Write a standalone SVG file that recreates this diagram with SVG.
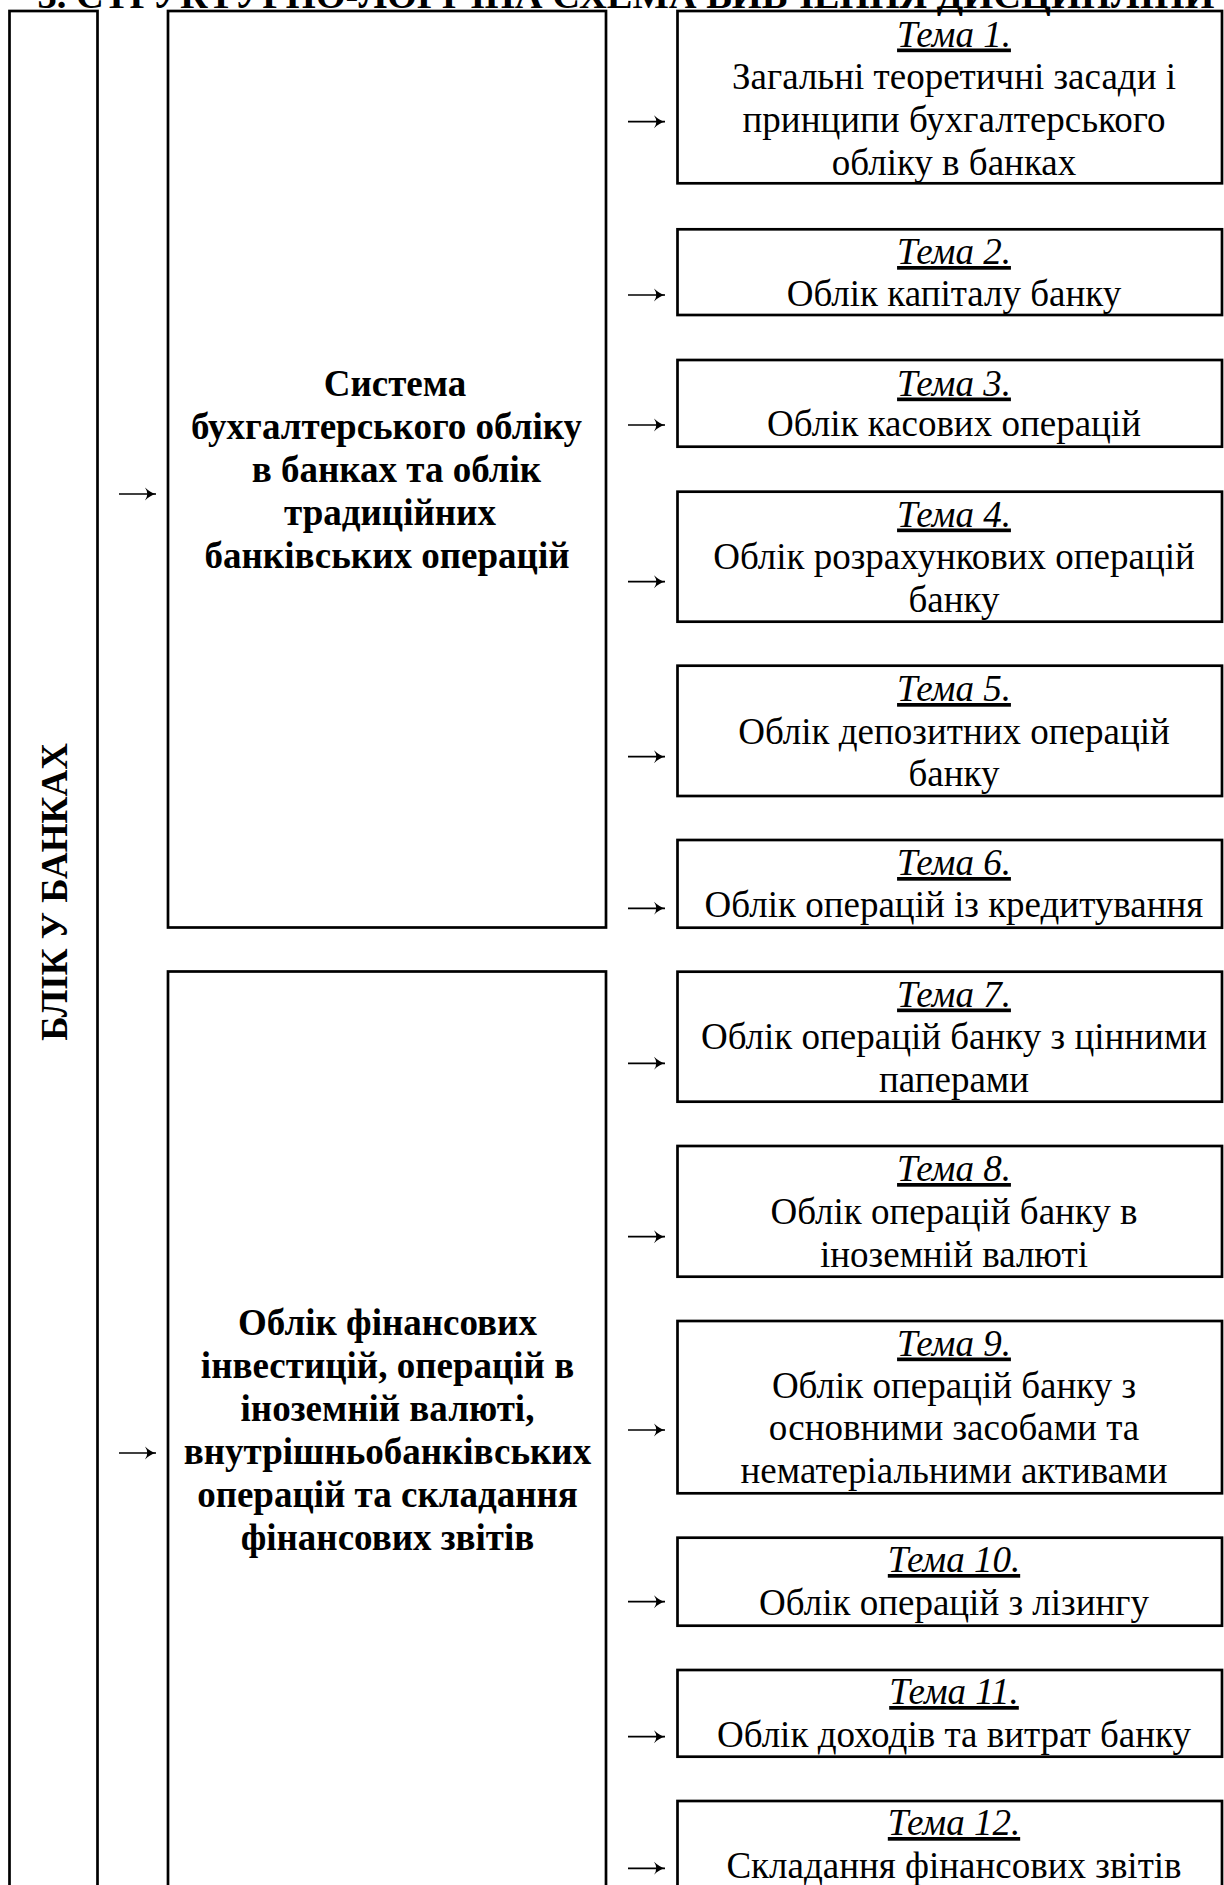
<svg xmlns="http://www.w3.org/2000/svg" width="1224" height="1885" viewBox="0 0 1224 1885">
<style>
  .box { fill: none; stroke: #000; stroke-width: 2.7; }
  text { font-family: "Liberation Serif", "Times New Roman", serif; font-size: 37px; fill: #000; }
  .b { font-weight: bold; }
  .t { text-anchor: middle; }
  .tema { font-style: italic; text-decoration: underline; }
  .arr { stroke: #000; stroke-width: 1.7; fill: none; marker-end: url(#ah); }
</style>
<defs>
  <marker id="ah" markerUnits="userSpaceOnUse" markerWidth="13" markerHeight="15" refX="11" refY="7.5" orient="auto" overflow="visible">
    <path d="M0,1 Q5.5,6.3 11,7.5 Q5.5,8.7 0,14 Q4.5,7.5 0,1 Z" fill="#000"/>
  </marker>
</defs>
<rect width="1224" height="1885" fill="#fff"/>

<g id="title">
  <text class="b t" x="626" y="8" style="font-size:38.5px">3. СТРУКТУРНО-ЛОГІЧНА СХЕМА ВИВЧЕННЯ ДИСЦИПЛІНИ</text>
</g>

<g id="root">
  <rect class="box" x="9.5" y="11" width="88" height="1900"/>
  <text class="b t" transform="translate(67,892) rotate(-90)" x="0" y="0">БЛІК У БАНКАХ</text>
</g>

<g id="module1">
  <rect class="box" x="168" y="11" width="438" height="916.5"/>
  <text class="b t" x="395" y="395.5">Система</text>
  <text class="b t" x="386.5" y="438.7">бухгалтерського обліку</text>
  <text class="b t" x="396.5" y="481.9">в банках та облік</text>
  <text class="b t" x="390" y="525.1">традиційних</text>
  <text class="b t" x="387" y="568.3">банківських операцій</text>
</g>

<g id="module2">
  <rect class="box" x="168" y="971.5" width="438" height="950"/>
  <text class="b t" x="387.5" y="1335">Облік фінансових</text>
  <text class="b t" x="387.5" y="1378">інвестицій, операцій в</text>
  <text class="b t" x="387.5" y="1421">іноземній валюті,</text>
  <text class="b t" x="387.5" y="1464">внутрішньобанківських</text>
  <text class="b t" x="387.5" y="1507">операцій та складання</text>
  <text class="b t" x="387.5" y="1550">фінансових звітів</text>
</g>

<g id="tema1">
  <rect class="box" x="677.5" y="11" width="544.5" height="172.3"/>
  <text class="t" x="954" y="46.5"><tspan class="tema">Тема 1.</tspan></text>
  <text class="t" x="954" y="89.3">Загальні теоретичні засади і</text>
  <text class="t" x="954" y="132.1">принципи бухгалтерського</text>
  <text class="t" x="954" y="174.9">обліку в банках</text>
</g>
<g id="tema2">
  <rect class="box" x="677.5" y="229.3" width="544.5" height="85.7"/>
  <text class="t" x="954" y="264"><tspan class="tema">Тема 2.</tspan></text>
  <text class="t" x="954" y="305.5">Облік капіталу банку</text>
</g>
<g id="tema3">
  <rect class="box" x="677.5" y="360" width="544.5" height="86.7"/>
  <text class="t" x="954" y="395.5"><tspan class="tema">Тема 3.</tspan></text>
  <text class="t" x="954" y="436">Облік касових операцій</text>
</g>
<g id="tema4">
  <rect class="box" x="677.5" y="491.7" width="544.5" height="130"/>
  <text class="t" x="954" y="526.5"><tspan class="tema">Тема 4.</tspan></text>
  <text class="t" x="954" y="569">Облік розрахункових операцій</text>
  <text class="t" x="954" y="611.8">банку</text>
</g>
<g id="tema5">
  <rect class="box" x="677.5" y="665.7" width="544.5" height="130.3"/>
  <text class="t" x="954" y="701"><tspan class="tema">Тема 5.</tspan></text>
  <text class="t" x="954" y="743.5">Облік депозитних операцій</text>
  <text class="t" x="954" y="786.3">банку</text>
</g>
<g id="tema6">
  <rect class="box" x="677.5" y="840" width="544.5" height="87.7"/>
  <text class="t" x="954" y="875"><tspan class="tema">Тема 6.</tspan></text>
  <text class="t" x="954" y="917">Облік операцій із кредитування</text>
</g>
<g id="tema7">
  <rect class="box" x="677.5" y="971.7" width="544.5" height="130"/>
  <text class="t" x="954" y="1006.5"><tspan class="tema">Тема 7.</tspan></text>
  <text class="t" x="954" y="1049">Облік операцій банку з цінними</text>
  <text class="t" x="954" y="1091.8">паперами</text>
</g>
<g id="tema8">
  <rect class="box" x="677.5" y="1146" width="544.5" height="130.7"/>
  <text class="t" x="954" y="1181"><tspan class="tema">Тема 8.</tspan></text>
  <text class="t" x="954" y="1223.5">Облік операцій банку в</text>
  <text class="t" x="954" y="1266.5">іноземній валюті</text>
</g>
<g id="tema9">
  <rect class="box" x="677.5" y="1321" width="544.5" height="172.3"/>
  <text class="t" x="954" y="1355.5"><tspan class="tema">Тема 9.</tspan></text>
  <text class="t" x="954" y="1397.5">Облік операцій банку з</text>
  <text class="t" x="954" y="1440.3">основними засобами та</text>
  <text class="t" x="954" y="1483.3">нематеріальними активами</text>
</g>
<g id="tema10">
  <rect class="box" x="677.5" y="1537.7" width="544.5" height="88"/>
  <text class="t" x="954" y="1572"><tspan class="tema">Тема 10.</tspan></text>
  <text class="t" x="954" y="1615">Облік операцій з лізингу</text>
</g>
<g id="tema11">
  <rect class="box" x="677.5" y="1670" width="544.5" height="86.7"/>
  <text class="t" x="954" y="1704"><tspan class="tema">Тема 11.</tspan></text>
  <text class="t" x="954" y="1746.8">Облік доходів та витрат банку</text>
</g>
<g id="tema12">
  <rect class="box" x="677.5" y="1801" width="544.5" height="120"/>
  <text class="t" x="954" y="1835"><tspan class="tema">Тема 12.</tspan></text>
  <text class="t" x="954" y="1878.3">Складання фінансових звітів</text>
</g>

<g id="connectors">
  <line class="arr" x1="119" y1="494" x2="156" y2="494"/>
  <line class="arr" x1="119" y1="1453" x2="156" y2="1453"/>
  <line class="arr" x1="628" y1="121.7" x2="665" y2="121.7"/>
  <line class="arr" x1="628" y1="295" x2="665" y2="295"/>
  <line class="arr" x1="628" y1="425" x2="665" y2="425"/>
  <line class="arr" x1="628" y1="581.7" x2="665" y2="581.7"/>
  <line class="arr" x1="628" y1="756.7" x2="665" y2="756.7"/>
  <line class="arr" x1="628" y1="908.3" x2="665" y2="908.3"/>
  <line class="arr" x1="628" y1="1063.3" x2="665" y2="1063.3"/>
  <line class="arr" x1="628" y1="1236.7" x2="665" y2="1236.7"/>
  <line class="arr" x1="628" y1="1430" x2="665" y2="1430"/>
  <line class="arr" x1="628" y1="1601.7" x2="665" y2="1601.7"/>
  <line class="arr" x1="628" y1="1736.7" x2="665" y2="1736.7"/>
  <line class="arr" x1="628" y1="1868.3" x2="665" y2="1868.3"/>
</g>
</svg>
